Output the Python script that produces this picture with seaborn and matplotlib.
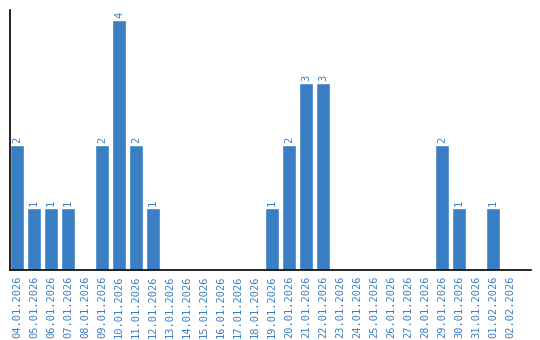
import matplotlib
matplotlib.use("Agg")
import matplotlib.pyplot as plt
import seaborn as sns
import pandas as pd

dates = ["04.01.2026", "05.01.2026", "06.01.2026", "07.01.2026", "08.01.2026",
         "09.01.2026", "10.01.2026", "11.01.2026", "12.01.2026", "13.01.2026",
         "14.01.2026", "15.01.2026", "16.01.2026", "17.01.2026", "18.01.2026",
         "19.01.2026", "20.01.2026", "21.01.2026", "22.01.2026", "23.01.2026",
         "24.01.2026", "25.01.2026", "26.01.2026", "27.01.2026", "28.01.2026",
         "29.01.2026", "30.01.2026", "31.01.2026", "01.02.2026", "02.02.2026"]
counts = [2, 1, 1, 1, 0, 2, 4, 2, 1, 0, 0, 0, 0, 0, 0,
          1, 2, 3, 3, 0, 0, 0, 0, 0, 0, 2, 1, 0, 1, 0]

BLUE = "#3a7fc3"
df = pd.DataFrame({"date": dates, "count": counts})

sns.set_style("white")
fig = plt.figure(figsize=(5.4, 3.4), dpi=100)
ax = fig.add_axes([10/540, 70/340, 521/540, 260/340])
sns.barplot(data=df, x="date", y="count", color=BLUE, width=14/17,
            saturation=1, ax=ax, order=dates)

ax.set_xlim(-0.41, 30.24)
ax.set_ylim(0, 4.16)
for s in ["top", "right"]:
    ax.spines[s].set_visible(False)
for s in ["left", "bottom"]:
    ax.spines[s].set_color("black")
    ax.spines[s].set_linewidth(1.2)
ax.set_xlabel("")
ax.set_ylabel("")
ax.set_yticks([])
ax.tick_params(axis="x", length=0, pad=4, labelsize=7.5, labelcolor=BLUE, rotation=90)
for lbl in ax.get_xticklabels():
    lbl.set_family("DejaVu Sans Mono")

for i, v in enumerate(counts):
    if v > 0:
        ax.text(i, v + 0.03, str(v), rotation=90, ha="center", va="bottom",
                color=BLUE, fontsize=7.5, family="DejaVu Sans Mono")

fig.savefig("out.png", dpi=100)
